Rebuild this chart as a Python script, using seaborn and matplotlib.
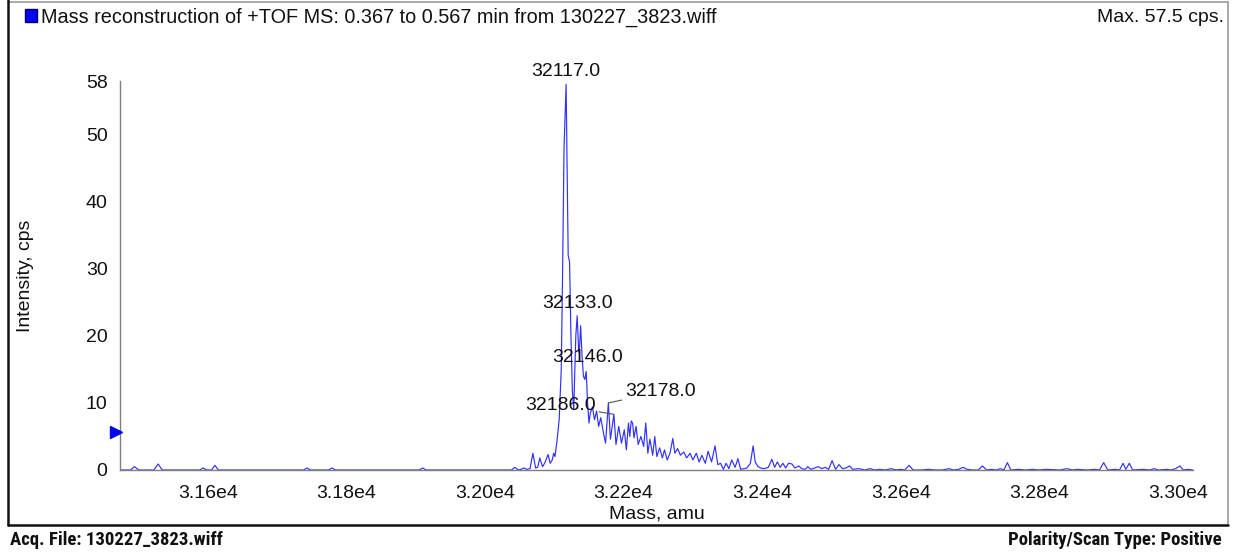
import matplotlib
matplotlib.use("Agg")
import matplotlib.pyplot as plt
from matplotlib import font_manager
from matplotlib.font_manager import FontProperties
from matplotlib.lines import Line2D
from matplotlib.patches import Rectangle
from matplotlib.ticker import MultipleLocator, FixedLocator
import matplotlib.transforms as mtransforms
import pandas as pd
import seaborn as sns

# ---- reconstructed spectrum (mass in amu, intensity in cps) ----
mass = [
    31473, 31488, 31494, 31500, 31522, 31528, 31534, 31588, 31593, 31598,
    31605, 31610, 31615, 31738, 31743, 31748, 31774, 31779, 31784, 31905,
    31910, 31915, 32038, 32043, 32048, 32052, 32056, 32060, 32065, 32069,
    32073, 32076, 32079, 32083, 32086, 32091, 32094, 32097, 32099, 32101,
    32104, 32107, 32110, 32112, 32114, 32117, 32119, 32120, 32122, 32124,
    32126, 32128, 32131, 32133, 32135, 32136, 32138, 32140, 32142, 32144,
    32146, 32148, 32150, 32152, 32155, 32158, 32161, 32164, 32167, 32171,
    32174, 32178, 32181, 32186, 32189, 32193, 32197, 32201, 32204, 32207,
    32209, 32211, 32213, 32215, 32218, 32221, 32225, 32229, 32232, 32235,
    32238, 32242, 32245, 32248, 32252, 32256, 32259, 32263, 32267, 32271,
    32274, 32278, 32282, 32287, 32291, 32296, 32300, 32305, 32309, 32313,
    32318, 32322, 32327, 32332, 32336, 32340, 32344, 32348, 32352, 32356,
    32361, 32365, 32369, 32374, 32378, 32383, 32387, 32390, 32394, 32398,
    32403, 32409, 32414, 32418, 32422, 32426, 32430, 32434, 32438, 32443,
    32447, 32453, 32457, 32462, 32466, 32470, 32476, 32481, 32486, 32491,
    32496, 32501, 32506, 32511, 32516, 32521, 32526, 32531, 32540, 32548,
    32556, 32562, 32570, 32578, 32586, 32594, 32600, 32606, 32612, 32618,
    32630, 32640, 32650, 32660, 32670, 32676, 32684, 32690, 32696, 32704,
    32712, 32718, 32724, 32731, 32738, 32744, 32749, 32754, 32759, 32770,
    32780, 32790, 32800, 32810, 32830, 32840, 32848, 32855, 32870, 32880,
    32887, 32893, 32899, 32910, 32916, 32921, 32925, 32930, 32935, 32950,
    32960, 32966, 32972, 32985, 32990, 32997, 33003, 33008, 33015, 33022,
]
intensity = [
    0.0, 0.0, 0.5, 0.0, 0.0, 0.9, 0.0, 0.0, 0.3, 0.0,
    0.0, 0.7, 0.0, 0.0, 0.3, 0.0, 0.0, 0.3, 0.0, 0.0,
    0.3, 0.0, 0.0, 0.4, 0.0, 0.1, 0.3, 0.1, 0.2, 2.5,
    0.3, 0.4, 1.8, 0.5, 1.0, 2.3, 1.0, 1.5, 2.5, 2.0,
    4.5, 7.5, 15.0, 30.0, 48.0, 57.5, 40.0, 32.0, 31.0, 20.0,
    12.0, 9.0, 20.0, 23.0, 18.0, 17.5, 21.5, 17.0, 14.0, 13.5,
    14.7, 10.0, 7.0, 8.5, 9.4, 7.5, 8.8, 6.5, 7.8, 5.5,
    4.0, 10.0, 4.6, 8.3, 3.8, 6.5, 4.0, 6.0, 3.0, 7.0,
    5.0, 7.3, 7.0, 4.8, 6.5, 3.8, 5.0, 3.5, 7.0, 2.5,
    4.6, 2.2, 5.0, 2.0, 3.3, 1.8, 3.0, 1.5, 2.5, 4.7,
    2.5, 3.2, 2.2, 2.7, 1.8, 2.5, 1.5, 2.5, 1.2, 2.2,
    1.0, 2.8, 1.2, 3.6, 0.8, 1.0, 0.1, 1.0, 0.2, 1.5,
    0.4, 1.7, 0.1, 0.2, 0.3, 1.0, 3.6, 1.2, 0.5, 0.3,
    0.2, 0.4, 1.6, 0.4, 1.2, 0.4, 1.0, 0.3, 1.0, 0.9,
    0.3, 0.6, 0.2, 0.1, 0.5, 0.1, 0.3, 0.5, 0.2, 0.4,
    0.1, 1.4, 0.1, 0.8, 0.2, 0.3, 0.6, 0.1, 0.2, 0.0,
    0.2, 0.0, 0.1, 0.0, 0.2, 0.0, 0.1, 0.0, 0.7, 0.0,
    0.0, 0.1, 0.0, 0.0, 0.2, 0.0, 0.1, 0.4, 0.1, 0.0,
    0.0, 0.6, 0.0, 0.1, 0.0, 0.2, 0.0, 1.1, 0.0, 0.1,
    0.0, 0.1, 0.0, 0.1, 0.0, 0.2, 0.0, 0.1, 0.0, 0.1,
    0.0, 1.1, 0.0, 0.1, 0.0, 1.0, 0.1, 1.0, 0.0, 0.1,
    0.0, 0.2, 0.0, 0.1, 0.0, 0.2, 0.6, 0.0, 0.1, 0.0,
]

# labelled peaks
peak_mass = [32117.0, 32133.0, 32146.0, 32178.0, 32186.0]
peak_int = [57.5, 23.0, 14.7, 10.0, 8.3]
peak_text = ["32117.0", "32133.0", "32146.0", "32178.0", "32186.0"]

x_ticks = [31600, 31800, 32000, 32200, 32400, 32600, 32800, 33000]
x_tick_labels = ["3.16e4", "3.18e4", "3.20e4", "3.22e4", "3.24e4", "3.26e4", "3.28e4", "3.30e4"]
y_ticks = [0, 10, 20, 30, 40, 50, 58]
y_tick_labels = ["0", "10", "20", "30", "40", "50", "58"]
threshold = 5.7

title_text = "Mass reconstruction of +TOF MS: 0.367 to 0.567 min from 130227_3823.wiff"
max_text = "Max. 57.5 cps."
acq_text = "Acq. File: 130227_3823.wiff"
polarity_text = "Polarity/Scan Type: Positive"

spec = pd.DataFrame({"mass": mass, "intensity": intensity})

sns.set_theme(style="white")
plt.rcParams["font.family"] = ["Liberation Sans", "DejaVu Sans"]


def footer_font():
    """Pick a condensed bold sans face for the footer, if one is installed."""
    prefs = ["Liberation Sans Narrow", "Roboto Condensed", "Noto Sans",
             "Open Sans", "DejaVu Sans", "Roboto"]
    cands = []
    for f in font_manager.fontManager.ttflist:
        w = f.weight if isinstance(f.weight, int) else {"bold": 700}.get(f.weight, 400)
        if w >= 600 and str(f.stretch) in ("condensed", "semi-condensed", "75", "87.5") \
                and f.style == "normal":
            rank = prefs.index(f.name) if f.name in prefs else len(prefs)
            cands.append((rank, abs(w - 700), f.fname))
    for f in font_manager.fontManager.ttflist:
        if "narrow" in f.fname.lower() or "condensed" in f.fname.lower():
            low = f.fname.lower()
            if "bold" in low and "italic" not in low and "oblique" not in low:
                cands.append((len(prefs) + 1, 0, f.fname))
    if cands:
        cands.sort()
        return FontProperties(fname=cands[0][2], size=13.5), True
    return FontProperties(family="Liberation Sans", weight="bold", size=12.0), False


W, H = 1233, 552
fig = plt.figure(figsize=(W / 100, H / 100), dpi=100)
fig.patch.set_facecolor("white")

ax = fig.add_axes([120 / W, 1 - 470 / H, (1193 - 120) / W, (470 - 81) / H])
ax.set_facecolor("white")

sns.lineplot(data=spec, x="mass", y="intensity", ax=ax, color="#3030ff",
             lw=0.85, estimator=None, sort=True)

ax.set_xlim(31473, 33022)
ax.set_ylim(0, 58)

for side in ["top", "right"]:
    ax.spines[side].set_visible(False)
for side in ["left", "bottom"]:
    ax.spines[side].set_color("#7f7f7f")
    ax.spines[side].set_linewidth(1.0)

ax.xaxis.set_major_locator(FixedLocator(x_ticks))
ax.set_xticklabels(x_tick_labels)
ax.xaxis.set_minor_locator(MultipleLocator(100))
ax.yaxis.set_major_locator(FixedLocator(y_ticks))
ax.set_yticklabels(y_tick_labels)
ax.yaxis.set_minor_locator(FixedLocator([5, 15, 25, 35, 45, 55]))
ax.tick_params(axis="both", which="both", direction="out", color="#7f7f7f",
               labelsize=14, labelcolor="#111111", width=1.0)
ax.tick_params(axis="x", which="major", length=5, pad=6)
ax.tick_params(axis="x", which="minor", length=5)
ax.tick_params(axis="y", which="major", length=6, pad=3)
ax.tick_params(axis="y", which="minor", length=3)
ax.yaxis.get_major_ticks()[-1].tick1line.set_visible(False)
ax.grid(False)

ax.set_xlabel("Mass, amu", fontsize=14, color="#111111", labelpad=2)
ax.set_ylabel("Intensity, cps", fontsize=14, color="#111111")
ax.yaxis.set_label_coords(-86 / 1073, 0.5)

# threshold marker on the intensity axis
trans = mtransforms.blended_transform_factory(ax.transAxes, ax.transData)
ax.plot([-0.0035], [threshold], marker=">", color="#0000ee", markersize=8.5,
        transform=trans, clip_on=False, zorder=5)

# peak labels
offsets = [(0, 3, "center", "bottom", False),
           (0, 3, "center", "bottom", False),
           (1, 4, "center", "bottom", False),
           (12, 8, "left", "center", True),
           (-13, 6.5, "right", "center", True)]
for m, v, t, (dx, dy, ha, va, lead) in zip(peak_mass, peak_int, peak_text, offsets):
    kw = {}
    if lead:
        kw["arrowprops"] = dict(arrowstyle="-", color="#555555", lw=0.8,
                                shrinkA=0, shrinkB=0)
    ax.annotate(t, xy=(m, v), xytext=(dx, dy), textcoords="offset points",
                ha=ha, va=va, fontsize=14, color="#111111", **kw)

# header line and frame
fig.add_artist(Rectangle((25 / W, 1 - 22 / H), 12 / W, 13 / H,
                         transform=fig.transFigure, facecolor="#0000ff",
                         edgecolor="#000060", lw=1.0))
fig.text(41 / W, 1 - 17 / H, title_text, ha="left", va="center",
         fontsize=14.3, color="#111111")
fig.text(1224 / W, 1 - 17 / H, max_text, ha="right", va="center",
         fontsize=14, color="#111111")

fig.add_artist(Line2D([8 / W, 1228 / W], [1 - 1.5 / H, 1 - 1.5 / H],
                      transform=fig.transFigure, color="#9a9a9a", lw=1.2))
fig.add_artist(Line2D([1228 / W, 1228 / W], [1 - 1.5 / H, 1 - 525 / H],
                      transform=fig.transFigure, color="#9a9a9a", lw=1.2))
fig.add_artist(Line2D([8 / W, 8 / W], [1, 1 - 525 / H],
                      transform=fig.transFigure, color="#111111", lw=1.8))
fig.add_artist(Line2D([8 / W, 1228 / W], [1 - 525 / H, 1 - 525 / H],
                      transform=fig.transFigure, color="#111111", lw=1.8))

fp, is_condensed = footer_font()
fig.text(10 / W, 1 - 540 / H, acq_text, ha="left", va="center",
         fontproperties=fp, color="#111111")
fig.text(1222 / W, 1 - 540 / H, polarity_text, ha="right", va="center",
         fontproperties=fp, color="#111111")

fig.savefig("out.png", dpi=100, facecolor="white")
